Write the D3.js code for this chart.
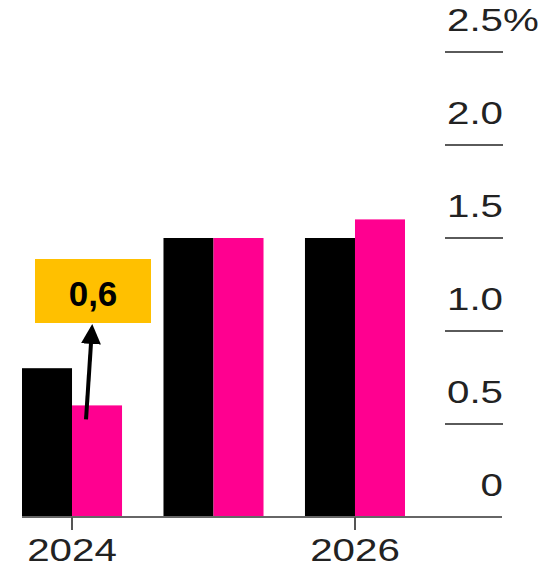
<!DOCTYPE html>
<html>
<head>
<meta charset="utf-8">
<script src="https://cdn.jsdelivr.net/npm/d3@7"></script>
<style>
  body { margin: 0; background: #fff; }
  svg { display: block; }
  text { font-family: "Liberation Sans", Arial, sans-serif; }
</style>
</head>
<body>
<svg width="557" height="567"></svg>
<script>
const years = ['2024', '2025', '2026']
const seriesA = [0.8, 1.5, 1.5]
const seriesB = [0.6, 1.5, 1.6]
const yTicks = [0, 0.5, 1.0, 1.5, 2.0, 2.5]
const yTickLabels = ['0', '0.5', '1.0', '1.5', '2.0', '2.5']
const xLabels = ['2024', '2026']
const note = {year: '2024', value: 0.6, label: '0,6'}

const svg = d3.select('svg')
const stretch = 1.26

const x = d3.scaleBand().domain(years).range([22, 405]).paddingInner(0.293).paddingOuter(0)
const inner = d3.scaleBand().domain(['a', 'b']).range([0, x.bandwidth()])
const y = d3.scaleLinear().domain([0, 2.5]).range([517, 52])

const rows = years.map((yr, i) => ({year: yr, a: seriesA[i], b: seriesB[i]}))
const colors = {a: '#000000', b: '#ff0090'}

// bars
const groups = svg.append('g').selectAll('g').data(rows).join('g')
  .attr('transform', d => `translate(${x(d.year)},0)`)
groups.selectAll('rect')
  .data(d => ['a', 'b'].map(k => ({key: k, value: d[k]})))
  .join('rect')
  .attr('x', d => inner(d.key))
  .attr('width', inner.bandwidth())
  .attr('y', d => y(d.value))
  .attr('height', d => y(0) - y(d.value))
  .attr('fill', d => colors[d.key])

// baseline
svg.append('line')
  .attr('x1', 22).attr('x2', 502)
  .attr('y1', y(0)).attr('y2', y(0))
  .attr('stroke', '#666').attr('stroke-width', 2)

// x ticks + labels
const xAxis = svg.append('g')
  .attr('transform', `translate(0,${y(0)})`)
  .call(d3.axisBottom(x).tickValues(xLabels).tickSize(13).tickSizeOuter(0).tickFormat(''))
xAxis.select('.domain').remove()
xAxis.selectAll('.tick line').attr('stroke', '#555').attr('stroke-width', 2)

svg.append('g').selectAll('text').data(xLabels).join('text')
  .attr('transform', d => `translate(${x(d) + x.bandwidth() / 2},561) scale(${stretch},1)`)
  .attr('text-anchor', 'middle')
  .attr('font-size', 32)
  .attr('fill', '#222')
  .text(d => d)

// y gridline stubs + labels (right side)
const yAxis = svg.append('g')
yAxis.selectAll('line').data(yTicks.filter(d => d > 0)).join('line')
  .attr('x1', 445).attr('x2', 503)
  .attr('y1', d => y(d)).attr('y2', d => y(d))
  .attr('stroke', '#5a5a5a').attr('stroke-width', 2)

yAxis.selectAll('text.num').data(yTicks).join('text')
  .attr('class', 'num')
  .attr('transform', d => `translate(503,${y(d) - 21}) scale(${stretch},1)`)
  .attr('text-anchor', 'end')
  .attr('font-size', 32)
  .attr('fill', '#222')
  .text((d, i) => yTickLabels[i])

yAxis.append('text')
  .attr('transform', `translate(503,${y(2.5) - 21}) scale(${stretch},1)`)
  .attr('font-size', 32)
  .attr('fill', '#222')
  .text('%')

// annotation
const ann = svg.append('g')
const bx = x(note.year) + inner('b')
ann.append('rect')
  .attr('x', 35).attr('y', 259)
  .attr('width', 116).attr('height', 64)
  .attr('fill', '#ffc000')
ann.append('text')
  .attr('x', 93).attr('y', 306)
  .attr('text-anchor', 'middle')
  .attr('font-size', 35)
  .attr('font-weight', 'bold')
  .attr('fill', '#000')
  .text(note.label)

svg.append('defs').append('marker')
  .attr('id', 'arrow')
  .attr('viewBox', '0 0 10 10')
  .attr('refX', 8).attr('refY', 5)
  .attr('markerWidth', 5).attr('markerHeight', 5)
  .attr('orient', 'auto')
  .append('path')
  .attr('d', 'M0,0L10,5L0,10z')
  .attr('fill', '#000')

ann.append('line')
  .attr('x1', bx + 14).attr('y1', y(note.value) + 14)
  .attr('x2', 92).attr('y2', 328)
  .attr('stroke', '#000').attr('stroke-width', 4)
  .attr('marker-end', 'url(#arrow)')
</script>
</body>
</html>
